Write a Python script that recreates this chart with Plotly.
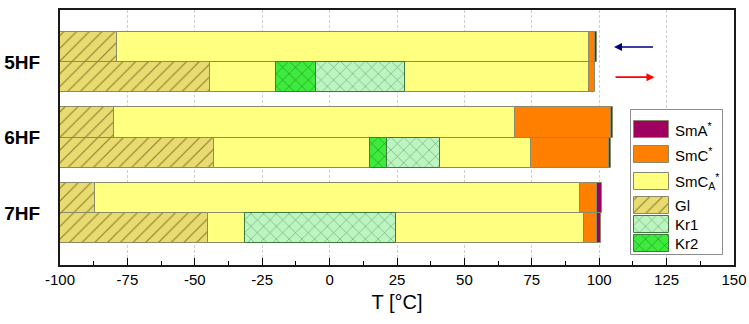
import plotly.graph_objects as go

# Samples, drawn top to bottom; each has a cooling run (upper bar) and a heating run (lower bar)
SAMPLES = ["5HF", "6HF", "7HF"]

# Phase sequences and their boundary temperatures (°C) for every run
PHASES_5HF_COOL = ["Gl", "SmCA", "SmC", "SmA"]
TEMPS_5HF_COOL = [-100, -79.0, 96.3, 98.4, 99.0]
PHASES_5HF_HEAT = ["Gl", "SmCA", "Kr2", "Kr1", "SmCA", "SmC"]
TEMPS_5HF_HEAT = [-100, -44.5, -20.0, -5.0, 28.0, 96.3, 98.4]

PHASES_6HF_COOL = ["Gl", "SmCA", "SmC", "SmA"]
TEMPS_6HF_COOL = [-100, -80.0, 68.7, 104.3, 105.2]
PHASES_6HF_HEAT = ["Gl", "SmCA", "Kr2", "Kr1", "SmCA", "SmC", "SmA"]
TEMPS_6HF_HEAT = [-100, -42.7, 14.8, 21.4, 41.0, 74.6, 103.7, 104.3]

PHASES_7HF_COOL = ["Gl", "SmCA", "SmC", "SmA"]
TEMPS_7HF_COOL = [-100, -87.0, 93.0, 99.2, 101.2]
PHASES_7HF_HEAT = ["Gl", "SmCA", "Kr1", "SmCA", "SmC", "SmA"]
TEMPS_7HF_HEAT = [-100, -45.2, -31.2, 24.8, 94.5, 99.0, 100.8]

# Legend order and labels
LEGEND_PHASES = ["SmA", "SmC", "SmCA", "Gl", "Kr1", "Kr2"]
LEGEND_TEXT = ["SmA<sup>*</sup>", "SmC<sup>*</sup>", "SmC<sub>A</sub><sup>*</sup>", "Gl", "Kr1", "Kr2"]

# Direction arrows (cooling: right-to-left, heating: left-to-right)
ARROW_T = [105.5, 120.5]

X_TICKS = [-100, -75, -50, -25, 0, 25, 50, 75, 100, 125, 150]

FONT = "Liberation Sans, Arial, sans-serif"
OUTLINE = "#8a8a6a"
KR_OUTLINE = "#3f7a3f"

STYLE = {
    "SmA": dict(color="#A00060", line=dict(color=OUTLINE, width=1)),
    "SmC": dict(color="#FF8000", line=dict(color=OUTLINE, width=1)),
    "SmCA": dict(color="#FFFF80", line=dict(color=OUTLINE, width=1)),
    "Gl": dict(color="#E8DC70", line=dict(color=OUTLINE, width=1),
               pattern=dict(shape="/", fgcolor="#8c7c2c", bgcolor="#E8DC70",
                            size=9, solidity=0.12, fillmode="replace")),
    "Kr1": dict(color="#BDF5C2", line=dict(color=KR_OUTLINE, width=1),
                pattern=dict(shape="x", fgcolor="#4c8c4c", bgcolor="#BDF5C2",
                             size=9, solidity=0.1, fillmode="replace")),
    "Kr2": dict(color="#3DEB3D", line=dict(color=KR_OUTLINE, width=1),
                pattern=dict(shape="x", fgcolor="#1f6a1f", bgcolor="#3DEB3D",
                             size=9, solidity=0.1, fillmode="replace")),
}

RUNS = [
    (0, -0.2, PHASES_5HF_COOL, TEMPS_5HF_COOL),
    (0, 0.2, PHASES_5HF_HEAT, TEMPS_5HF_HEAT),
    (1, -0.2, PHASES_6HF_COOL, TEMPS_6HF_COOL),
    (1, 0.2, PHASES_6HF_HEAT, TEMPS_6HF_HEAT),
    (2, -0.2, PHASES_7HF_COOL, TEMPS_7HF_COOL),
    (2, 0.2, PHASES_7HF_HEAT, TEMPS_7HF_HEAT),
]

# Collect segments per phase
segments = {p: dict(y=[], base=[], x=[]) for p in LEGEND_PHASES}
for idx, off, phases, temps in RUNS:
    for k, p in enumerate(phases):
        segments[p]["y"].append(idx + off)
        segments[p]["base"].append(temps[k])
        segments[p]["x"].append(temps[k + 1] - temps[k])

fig = go.Figure()
for p in ["SmCA", "SmC", "SmA", "Gl", "Kr1", "Kr2"]:
    s = segments[p]
    fig.add_trace(go.Bar(
        orientation="h", y=s["y"], x=s["x"], base=s["base"], width=0.4,
        marker=STYLE[p], showlegend=False, hoverinfo="skip",
    ))

# Legend: an overlay axis in pixel units of the plot area holds the frame and the swatches
PLOT_L, PLOT_R, PLOT_T, PLOT_B = 60, 735, 10, 265

fig.add_trace(go.Bar(
    orientation="h", y=[182.5], x=[92], base=[632], width=145,
    marker=dict(color="white", line=dict(color="#8c8c8c", width=1)),
    showlegend=False, hoverinfo="skip", xaxis="x2", yaxis="y2",
))

LEG_Y = [129, 154.5, 181, 205, 224.3, 243.4]
for p, yc in zip(LEGEND_PHASES, LEG_Y):
    fig.add_trace(go.Bar(
        orientation="h", y=[yc], x=[35], base=[635], width=17,
        marker=STYLE[p], showlegend=False, hoverinfo="skip",
        xaxis="x2", yaxis="y2",
    ))

for txt, yc in zip(LEGEND_TEXT, LEG_Y):
    fig.add_annotation(x=674, y=yc, xref="x2", yref="y2", text=txt, showarrow=False,
                       xanchor="left", yanchor="middle", font=dict(family=FONT, size=15, color="black"))

# Cooling / heating arrows beside the 5HF runs
fig.add_annotation(x=ARROW_T[0], y=-0.2, ax=ARROW_T[1], ay=-0.2, xref="x", yref="y",
                   axref="x", ayref="y", showarrow=True, arrowhead=2, arrowsize=1,
                   arrowwidth=1.6, arrowcolor="#000080", text="")
fig.add_annotation(x=ARROW_T[1], y=0.2, ax=ARROW_T[0], ay=0.2, xref="x", yref="y",
                   axref="x", ayref="y", showarrow=True, arrowhead=2, arrowsize=1,
                   arrowwidth=1.6, arrowcolor="#FF0000", text="")

fig.update_layout(
    width=749, height=324,
    margin=dict(l=60, r=15, t=10, b=59, autoexpand=False),
    paper_bgcolor="white", plot_bgcolor="white",
    barmode="overlay", bargap=0,
    font=dict(family=FONT, color="black"),
    xaxis=dict(
        range=[-100, 150], tickvals=X_TICKS, ticktext=[str(v) for v in X_TICKS],
        ticks="inside", ticklen=7, tickwidth=1, tickcolor="black",
        minor=dict(dtick=12.5, tick0=-100, ticks="inside", ticklen=4, tickcolor="black", showgrid=False),
        showgrid=True, gridcolor="#cfcfcf", griddash="3px,2px", gridwidth=1,
        showline=True, linecolor="#1a1a1a", linewidth=2, mirror=True,
        tickfont=dict(size=15), zeroline=False, automargin=False,
        title=dict(text="T [°C]", font=dict(size=20), standoff=8),
    ),
    yaxis=dict(
        range=[2.69, -0.69], tickvals=[0, 1, 2],
        ticktext=["<b>%s</b>" % s for s in SAMPLES],
        ticks="", ticklabelstandoff=14, tickfont=dict(size=19),
        showgrid=False, zeroline=False, automargin=False,
        showline=True, linecolor="#1a1a1a", linewidth=2, mirror=True,
    ),
    xaxis2=dict(range=[PLOT_L, PLOT_R], overlaying="x", anchor="y2", visible=False,
                fixedrange=True, automargin=False),
    yaxis2=dict(range=[PLOT_B, PLOT_T], overlaying="y", anchor="x2", visible=False,
                fixedrange=True, automargin=False),
)

fig.write_html("out.html")
